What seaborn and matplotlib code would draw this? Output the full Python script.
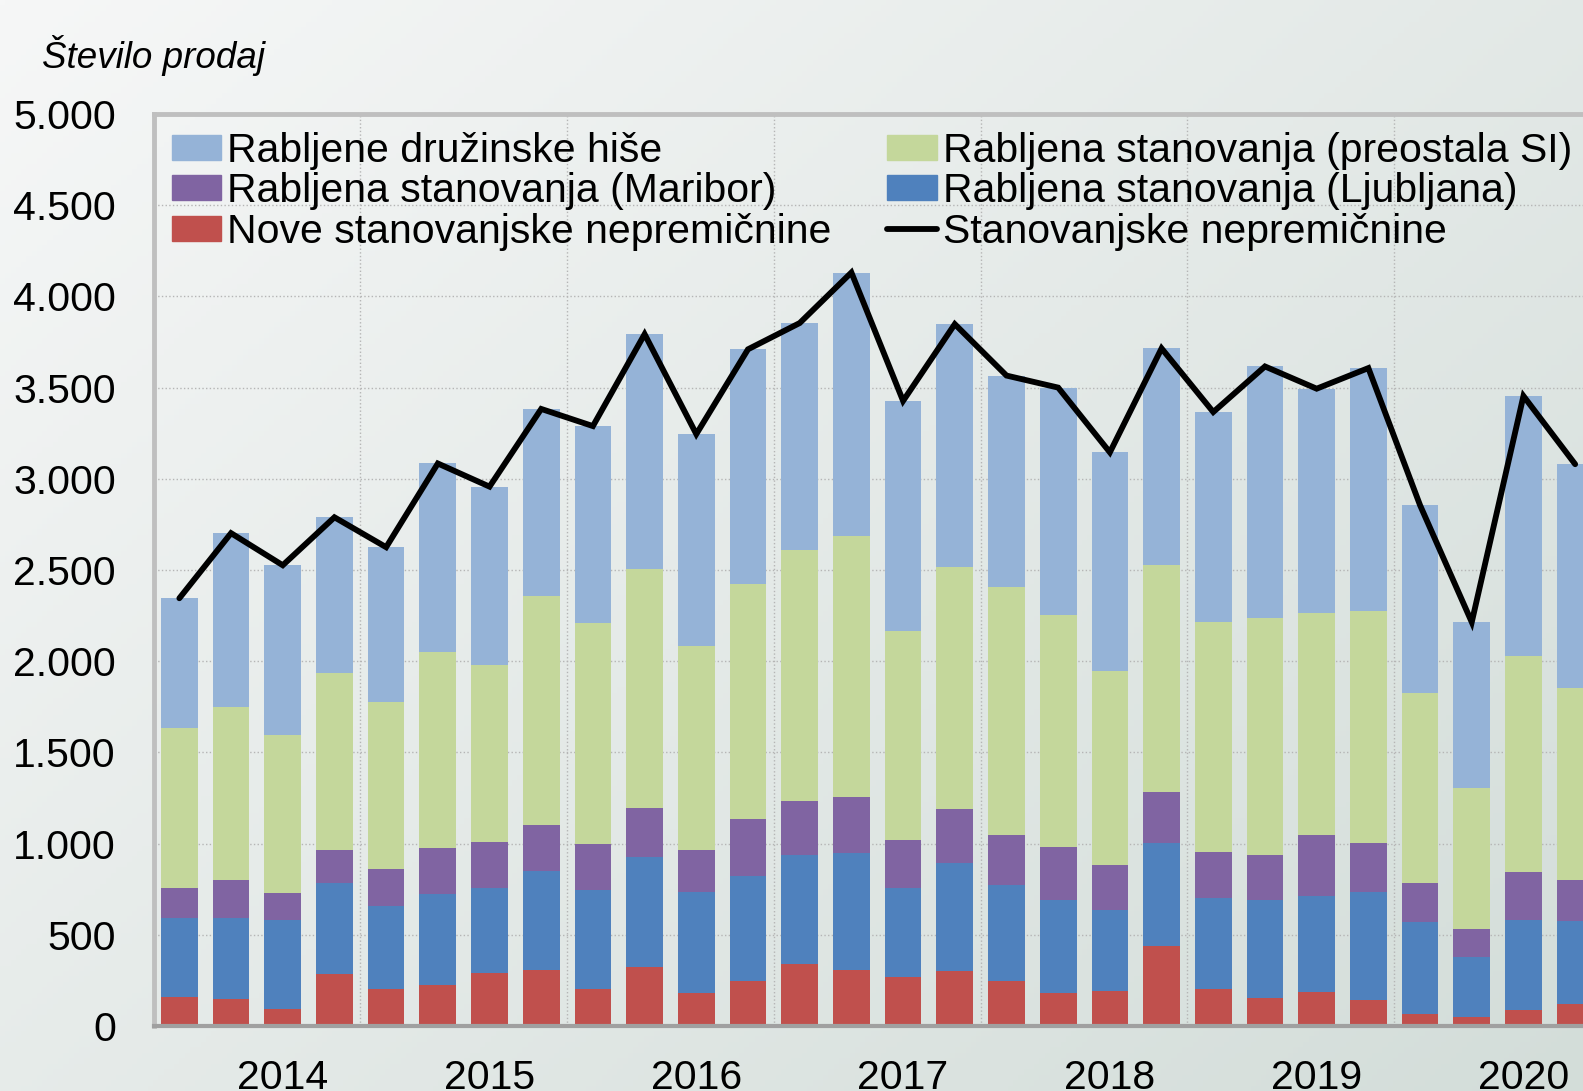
import numpy as np
import pandas as pd
import matplotlib
matplotlib.use("Agg")
import matplotlib.pyplot as plt
import seaborn as sns
from matplotlib.patches import Patch
from matplotlib.lines import Line2D

# četrtletja 2014Q1 - 2020Q4
kvartali = [f"{l}Q{q}" for l in range(2014, 2021) for q in range(1, 5)]
leta = ["2014", "2015", "2016", "2017", "2018", "2019", "2020"]

nove = [160, 148, 93, 285, 203, 227, 293, 305, 205, 321, 183, 244, 338, 305,
        271, 299, 249, 183, 194, 437, 205, 155, 188, 142, 66, 47, 86, 122]
ljubljana = [430, 444, 488, 499, 455, 498, 465, 542, 543, 604, 553, 581, 598, 642,
             487, 592, 526, 509, 443, 565, 498, 537, 526, 592, 504, 332, 495, 451]
maribor = [165, 208, 148, 180, 202, 250, 250, 255, 249, 271, 227, 310, 299, 310,
           261, 299, 271, 288, 243, 283, 249, 244, 332, 268, 214, 152, 263, 227]
preostala = [880, 948, 866, 970, 915, 1074, 969, 1257, 1212, 1312, 1119, 1290, 1373, 1428,
             1146, 1324, 1363, 1274, 1064, 1245, 1263, 1301, 1219, 1275, 1043, 775, 1184, 1052]
hise = [710, 954, 931, 855, 850, 1035, 980, 1024, 1080, 1285, 1163, 1285, 1246, 1446,
        1262, 1334, 1157, 1246, 1201, 1185, 1151, 1379, 1229, 1330, 1028, 908, 1426, 1228]

df = pd.DataFrame({"kvartal": kvartali, "nove": nove, "ljubljana": ljubljana,
                   "maribor": maribor, "preostala": preostala, "hise": hise})
df["skupaj"] = df[["nove", "ljubljana", "maribor", "preostala", "hise"]].sum(axis=1)

sns.set_theme(style="white")
plt.rcParams["font.family"] = ["Liberation Sans", "DejaVu Sans"]
plt.rcParams["text.color"] = "black"
plt.rcParams["xtick.color"] = "black"
plt.rcParams["ytick.color"] = "black"

W, H = 1583, 1091
fig = plt.figure(figsize=(W / 100, H / 100), dpi=100)

# ozadje z rahlim prelivom
bg = fig.add_axes([0, 0, 1, 1], zorder=-10)
xx, yy = np.meshgrid(np.linspace(0, 1, 300), np.linspace(0, 1, 200))
t = np.clip(0.55 * xx + 0.45 * yy, 0, 1)
svetla = np.array([246, 247, 247]) / 255
temna = np.array([211, 221, 217]) / 255
img = svetla[None, None, :] * (1 - t[..., None]) + temna[None, None, :] * t[..., None]
bg.imshow(img, aspect="auto", extent=[0, 1, 0, 1])
bg.axis("off")

ax = fig.add_axes([153.5 / W, 0.0596, (1601 - 153.5) / W, 0.8359])
ax.set_facecolor("none")

barve = {"hise": "#95B3D7", "preostala": "#C4D79B", "maribor": "#8064A2",
         "ljubljana": "#4F81BD", "nove": "#C0504D"}

# zlozeni stolpci: risemo kumulativne vsote od najvisje navzdol
kum = df["nove"].copy()
plasti = []
for s in ["nove", "ljubljana", "maribor", "preostala", "hise"]:
    if s != "nove":
        kum = kum + df[s]
    plasti.append((s, kum.copy()))
for s, vrednosti in reversed(plasti):
    sns.barplot(x=df["kvartal"], y=vrednosti, color=barve[s], saturation=1,
                width=0.71, linewidth=0, ax=ax, zorder=2)

ax.plot(np.arange(len(df)), df["skupaj"], color="black", lw=4.2, zorder=5,
        solid_joinstyle="miter")

ax.set_xlim(-0.5, 27.5)
ax.set_ylim(0, 5000)
ax.set_yticks(np.arange(0, 5001, 500))
ax.set_yticklabels([f"{v:,}".replace(",", ".") for v in range(0, 5001, 500)])
ax.set_xticks([2 + 4 * i for i in range(len(leta))])
ax.set_xticklabels(leta)
ax.set_xticks([3.5 + 4 * i for i in range(6)], minor=True)
ax.set_xlabel("")
ax.set_ylabel("")
ax.tick_params(axis="y", length=0, pad=27, labelsize=29.5)
ax.tick_params(axis="x", which="both", length=0, pad=24, labelsize=29.5)
ax.yaxis.grid(True, linestyle=":", color="#B5B5B5", lw=1)
ax.xaxis.grid(True, which="minor", linestyle=":", color="#B5B5B5", lw=1)
ax.xaxis.grid(False, which="major")
ax.set_axisbelow(True)

for k in ["left", "top"]:
    ax.spines[k].set_color("#BFBFBF")
    ax.spines[k].set_linewidth(3.5)
ax.spines["bottom"].set_color("#A0A0A0")
ax.spines["bottom"].set_linewidth(3)
ax.spines["right"].set_visible(False)

rocke = [Patch(color=barve["hise"]), Patch(color=barve["maribor"]), Patch(color=barve["nove"]),
         Patch(color=barve["preostala"]), Patch(color=barve["ljubljana"]),
         Line2D([], [], color="black", lw=4.2)]
oznake = ["Rabljene družinske hiše", "Rabljena stanovanja (Maribor)",
          "Nove stanovanjske nepremičnine", "Rabljena stanovanja (preostala SI)",
          "Rabljena stanovanja (Ljubljana)", "Stanovanjske nepremičnine"]
ax.legend(rocke, oznake, ncol=2, loc="upper left", bbox_to_anchor=(0.0125, 0.9805),
          frameon=False, fontsize=29.5, borderpad=0, borderaxespad=0,
          handlelength=1.21, handleheight=0.55, handletextpad=0.15,
          columnspacing=1.35, labelspacing=0.06)

fig.text(42.4 / W, 1 - 55.5 / H, "Število prodaj", style="italic", fontsize=26.5,
         ha="left", va="center")

fig.savefig("out.png", dpi=100)
